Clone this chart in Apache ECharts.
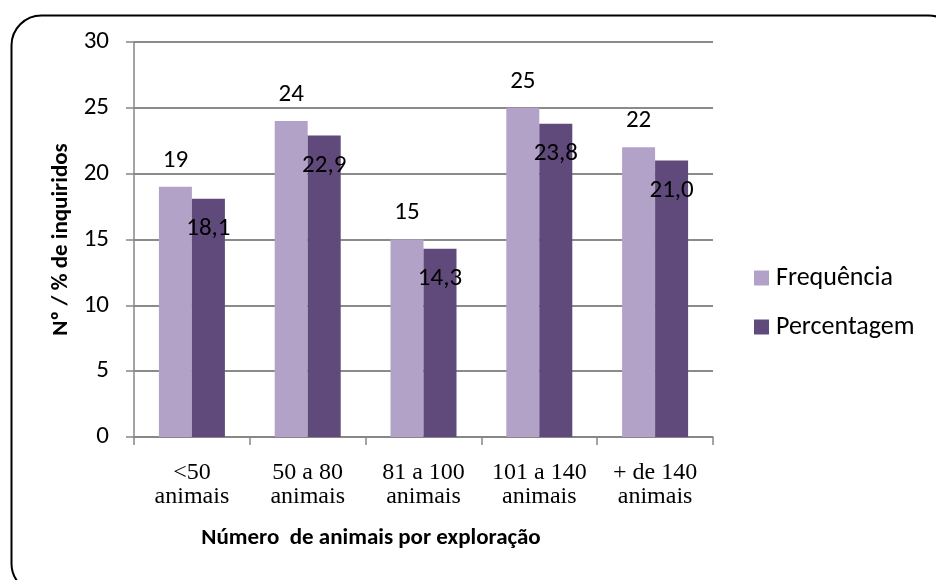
<!DOCTYPE html>
<html>
<head>
<meta charset="utf-8">
<script src="https://cdn.jsdelivr.net/npm/echarts@6/dist/echarts.min.js"></script>
<style>
html,body{margin:0;padding:0;background:#fff;}
#chart{width:936px;height:580px;}
</style>
</head>
<body>
<div id="chart"></div>
<script>
var categories = ['<50\nanimais', '50 a 80\nanimais', '81 a 100\nanimais', '101 a 140\nanimais', '+ de 140\nanimais'];
var frequencia = [19, 24, 15, 25, 22];
var percentagem = [18.1, 22.9, 14.3, 23.8, 21.0];
var yTicks = [0, 5, 10, 15, 20, 25, 30];
var seriesNames = ['Frequência', 'Percentagem'];
var xTitle = 'Número  de animais por exploração';
var yTitle = 'Nº / % de inquiridos';

var SANS = 'Carlito, Lato, "Noto Sans", sans-serif';
var chart = echarts.init(document.getElementById('chart'));
chart.setOption({
  backgroundColor: '#fff',
  animation: false,
  grid: {left: 134, right: 223, top: 42, bottom: 143},
  legend: {
    orient: 'vertical', left: 754, top: 265, padding: 0,
    itemWidth: 15, itemHeight: 15, itemGap: 23,
    icon: 'rect',
    data: seriesNames,
    textStyle: {fontFamily: SANS, fontSize: 26, lineHeight: 25, color: '#000', padding: [0, 0, 0, 2]}
  },
  xAxis: {
    type: 'category',
    data: categories,
    axisLine: {lineStyle: {color: '#868686', width: 1.5}},
    axisTick: {show: true, length: 8, lineStyle: {color: '#868686', width: 1.5}},
    axisLabel: {fontFamily: '"Liberation Serif", "Times New Roman", serif', fontSize: 24, color: '#000', lineHeight: 24, margin: 24, interval: 0}
  },
  yAxis: {
    type: 'value', min: yTicks[0], max: yTicks[yTicks.length - 1], interval: 5,
    name: yTitle, nameLocation: 'middle', nameGap: 57, nameRotate: 90,
    nameTextStyle: {fontFamily: SANS, fontSize: 23, fontWeight: 'bold', color: '#000'},
    axisLine: {show: true, lineStyle: {color: '#868686', width: 1.5}},
    axisTick: {show: true, length: 8, lineStyle: {color: '#868686', width: 1.5}},
    axisLabel: {fontFamily: SANS, fontSize: 25, color: '#000', margin: 25},
    splitLine: {lineStyle: {color: '#8a8a8a', width: 2}}
  },
  series: [
    {
      name: seriesNames[0], type: 'bar', data: frequencia,
      barWidth: 33, barGap: '0%',
      itemStyle: {color: '#B3A2C7'},
      label: {show: true, position: 'top', distance: 14, fontFamily: SANS, fontSize: 25, color: '#000'}
    },
    {
      name: seriesNames[1], type: 'bar', data: percentagem,
      barWidth: 33,
      itemStyle: {color: '#604A7B'},
      label: {show: true, position: 'insideTop', distance: 18, fontFamily: SANS, fontSize: 25, color: '#000',
        formatter: function (p) { return p.value.toFixed(1).replace('.', ','); }}
    }
  ],
  graphic: [
    {type: 'rect', left: 9, top: 13, shape: {x: 0, y: 0, width: 947, height: 578, r: 30},
      style: {fill: 'none', stroke: '#000', lineWidth: 2}, silent: true},
    {type: 'text', x: 371, y: 538,
      style: {text: xTitle, fontFamily: SANS, fontSize: 23, fontWeight: 'bold', fill: '#000',
        align: 'center', verticalAlign: 'middle', textAlign: 'center', textVerticalAlign: 'middle'}}
  ]
});
</script>
</body>
</html>
